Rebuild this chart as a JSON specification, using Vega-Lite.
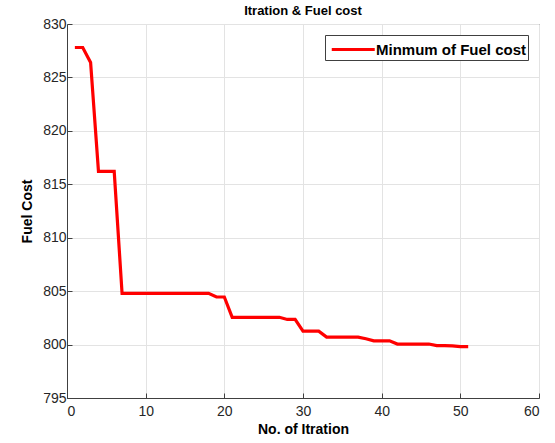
{
  "$schema": "https://vega.github.io/schema/vega-lite/v6.json",
  "autosize": "none",
  "padding": {"left": 67, "top": 24, "right": 16, "bottom": 45},
  "width": 472,
  "height": 374,
  "background": "white",
  "title": {
    "text": "Itration & Fuel cost",
    "font": "Liberation Sans",
    "fontSize": 13,
    "fontWeight": "bold",
    "color": "#000000",
    "offset": -1,
    "anchor": "middle"
  },
  "config": {
    "view": {"stroke": "#404040", "strokeWidth": 1},
    "axis": {
      "labelFont": "Liberation Sans",
      "labelFontSize": 14,
      "labelColor": "#262626",
      "titleFont": "Liberation Sans",
      "titleFontSize": 14,
      "titleFontWeight": "bold",
      "titleColor": "#000000",
      "domainColor": "#404040",
      "tickColor": "#404040",
      "gridColor": "#e3e3e3",
      "gridWidth": 1
    }
  },
  "data": {
    "values": [
      {"iter": 1, "cost": 827.8, "series": "Minmum of Fuel cost"},
      {"iter": 2, "cost": 827.8, "series": "Minmum of Fuel cost"},
      {"iter": 3, "cost": 826.4, "series": "Minmum of Fuel cost"},
      {"iter": 4, "cost": 816.2, "series": "Minmum of Fuel cost"},
      {"iter": 5, "cost": 816.2, "series": "Minmum of Fuel cost"},
      {"iter": 6, "cost": 816.2, "series": "Minmum of Fuel cost"},
      {"iter": 7, "cost": 804.8, "series": "Minmum of Fuel cost"},
      {"iter": 8, "cost": 804.8, "series": "Minmum of Fuel cost"},
      {"iter": 9, "cost": 804.8, "series": "Minmum of Fuel cost"},
      {"iter": 10, "cost": 804.8, "series": "Minmum of Fuel cost"},
      {"iter": 11, "cost": 804.8, "series": "Minmum of Fuel cost"},
      {"iter": 12, "cost": 804.8, "series": "Minmum of Fuel cost"},
      {"iter": 13, "cost": 804.8, "series": "Minmum of Fuel cost"},
      {"iter": 14, "cost": 804.8, "series": "Minmum of Fuel cost"},
      {"iter": 15, "cost": 804.8, "series": "Minmum of Fuel cost"},
      {"iter": 16, "cost": 804.8, "series": "Minmum of Fuel cost"},
      {"iter": 17, "cost": 804.8, "series": "Minmum of Fuel cost"},
      {"iter": 18, "cost": 804.8, "series": "Minmum of Fuel cost"},
      {"iter": 19, "cost": 804.45, "series": "Minmum of Fuel cost"},
      {"iter": 20, "cost": 804.45, "series": "Minmum of Fuel cost"},
      {"iter": 21, "cost": 802.55, "series": "Minmum of Fuel cost"},
      {"iter": 22, "cost": 802.55, "series": "Minmum of Fuel cost"},
      {"iter": 23, "cost": 802.55, "series": "Minmum of Fuel cost"},
      {"iter": 24, "cost": 802.55, "series": "Minmum of Fuel cost"},
      {"iter": 25, "cost": 802.55, "series": "Minmum of Fuel cost"},
      {"iter": 26, "cost": 802.55, "series": "Minmum of Fuel cost"},
      {"iter": 27, "cost": 802.55, "series": "Minmum of Fuel cost"},
      {"iter": 28, "cost": 802.35, "series": "Minmum of Fuel cost"},
      {"iter": 29, "cost": 802.35, "series": "Minmum of Fuel cost"},
      {"iter": 30, "cost": 801.25, "series": "Minmum of Fuel cost"},
      {"iter": 31, "cost": 801.25, "series": "Minmum of Fuel cost"},
      {"iter": 32, "cost": 801.25, "series": "Minmum of Fuel cost"},
      {"iter": 33, "cost": 800.7, "series": "Minmum of Fuel cost"},
      {"iter": 34, "cost": 800.7, "series": "Minmum of Fuel cost"},
      {"iter": 35, "cost": 800.7, "series": "Minmum of Fuel cost"},
      {"iter": 36, "cost": 800.7, "series": "Minmum of Fuel cost"},
      {"iter": 37, "cost": 800.7, "series": "Minmum of Fuel cost"},
      {"iter": 38, "cost": 800.55, "series": "Minmum of Fuel cost"},
      {"iter": 39, "cost": 800.35, "series": "Minmum of Fuel cost"},
      {"iter": 40, "cost": 800.35, "series": "Minmum of Fuel cost"},
      {"iter": 41, "cost": 800.35, "series": "Minmum of Fuel cost"},
      {"iter": 42, "cost": 800.05, "series": "Minmum of Fuel cost"},
      {"iter": 43, "cost": 800.05, "series": "Minmum of Fuel cost"},
      {"iter": 44, "cost": 800.05, "series": "Minmum of Fuel cost"},
      {"iter": 45, "cost": 800.05, "series": "Minmum of Fuel cost"},
      {"iter": 46, "cost": 800.05, "series": "Minmum of Fuel cost"},
      {"iter": 47, "cost": 799.9, "series": "Minmum of Fuel cost"},
      {"iter": 48, "cost": 799.9, "series": "Minmum of Fuel cost"},
      {"iter": 49, "cost": 799.88, "series": "Minmum of Fuel cost"},
      {"iter": 50, "cost": 799.8, "series": "Minmum of Fuel cost"},
      {"iter": 51, "cost": 799.8, "series": "Minmum of Fuel cost"}
    ]
  },
  "layer": [
    {
      "mark": {"type": "line", "strokeWidth": 3.2, "strokeJoin": "miter", "clip": true},
      "encoding": {
        "x": {
          "field": "iter",
          "type": "quantitative",
          "scale": {"domain": [0, 60], "nice": false, "zero": false},
          "axis": {
            "title": "No. of Itration",
            "values": [0, 10, 20, 30, 40, 50, 60],
            "tickSize": -5,
            "labelPadding": 11,
            "titlePadding": 4,
            "grid": true
          }
        },
        "y": {
          "field": "cost",
          "type": "quantitative",
          "scale": {"domain": [795, 830], "nice": false, "zero": false},
          "axis": {
            "title": "Fuel Cost",
            "values": [795, 800, 805, 810, 815, 820, 825, 830],
            "tickSize": -5,
            "labelPadding": 6,
            "titlePadding": 8,
            "grid": true
          }
        },
        "color": {
          "field": "series",
          "type": "nominal",
          "scale": {"range": ["#ff0000"]},
          "legend": {
            "title": null,
            "orient": "top-right",
            "offset": 11,
            "symbolType": "M-1,0H3",
            "symbolStrokeWidth": 3,
            "symbolSize": 462,
            "symbolOffset": 3,
            "labelFont": "Liberation Sans",
            "labelFontSize": 15,
            "labelFontWeight": "bold",
            "labelColor": "#000000",
            "strokeColor": "#404040",
            "fillColor": "#ffffff",
            "padding": 2,
            "labelOffset": 21
          }
        }
      }
    }
  ]
}
